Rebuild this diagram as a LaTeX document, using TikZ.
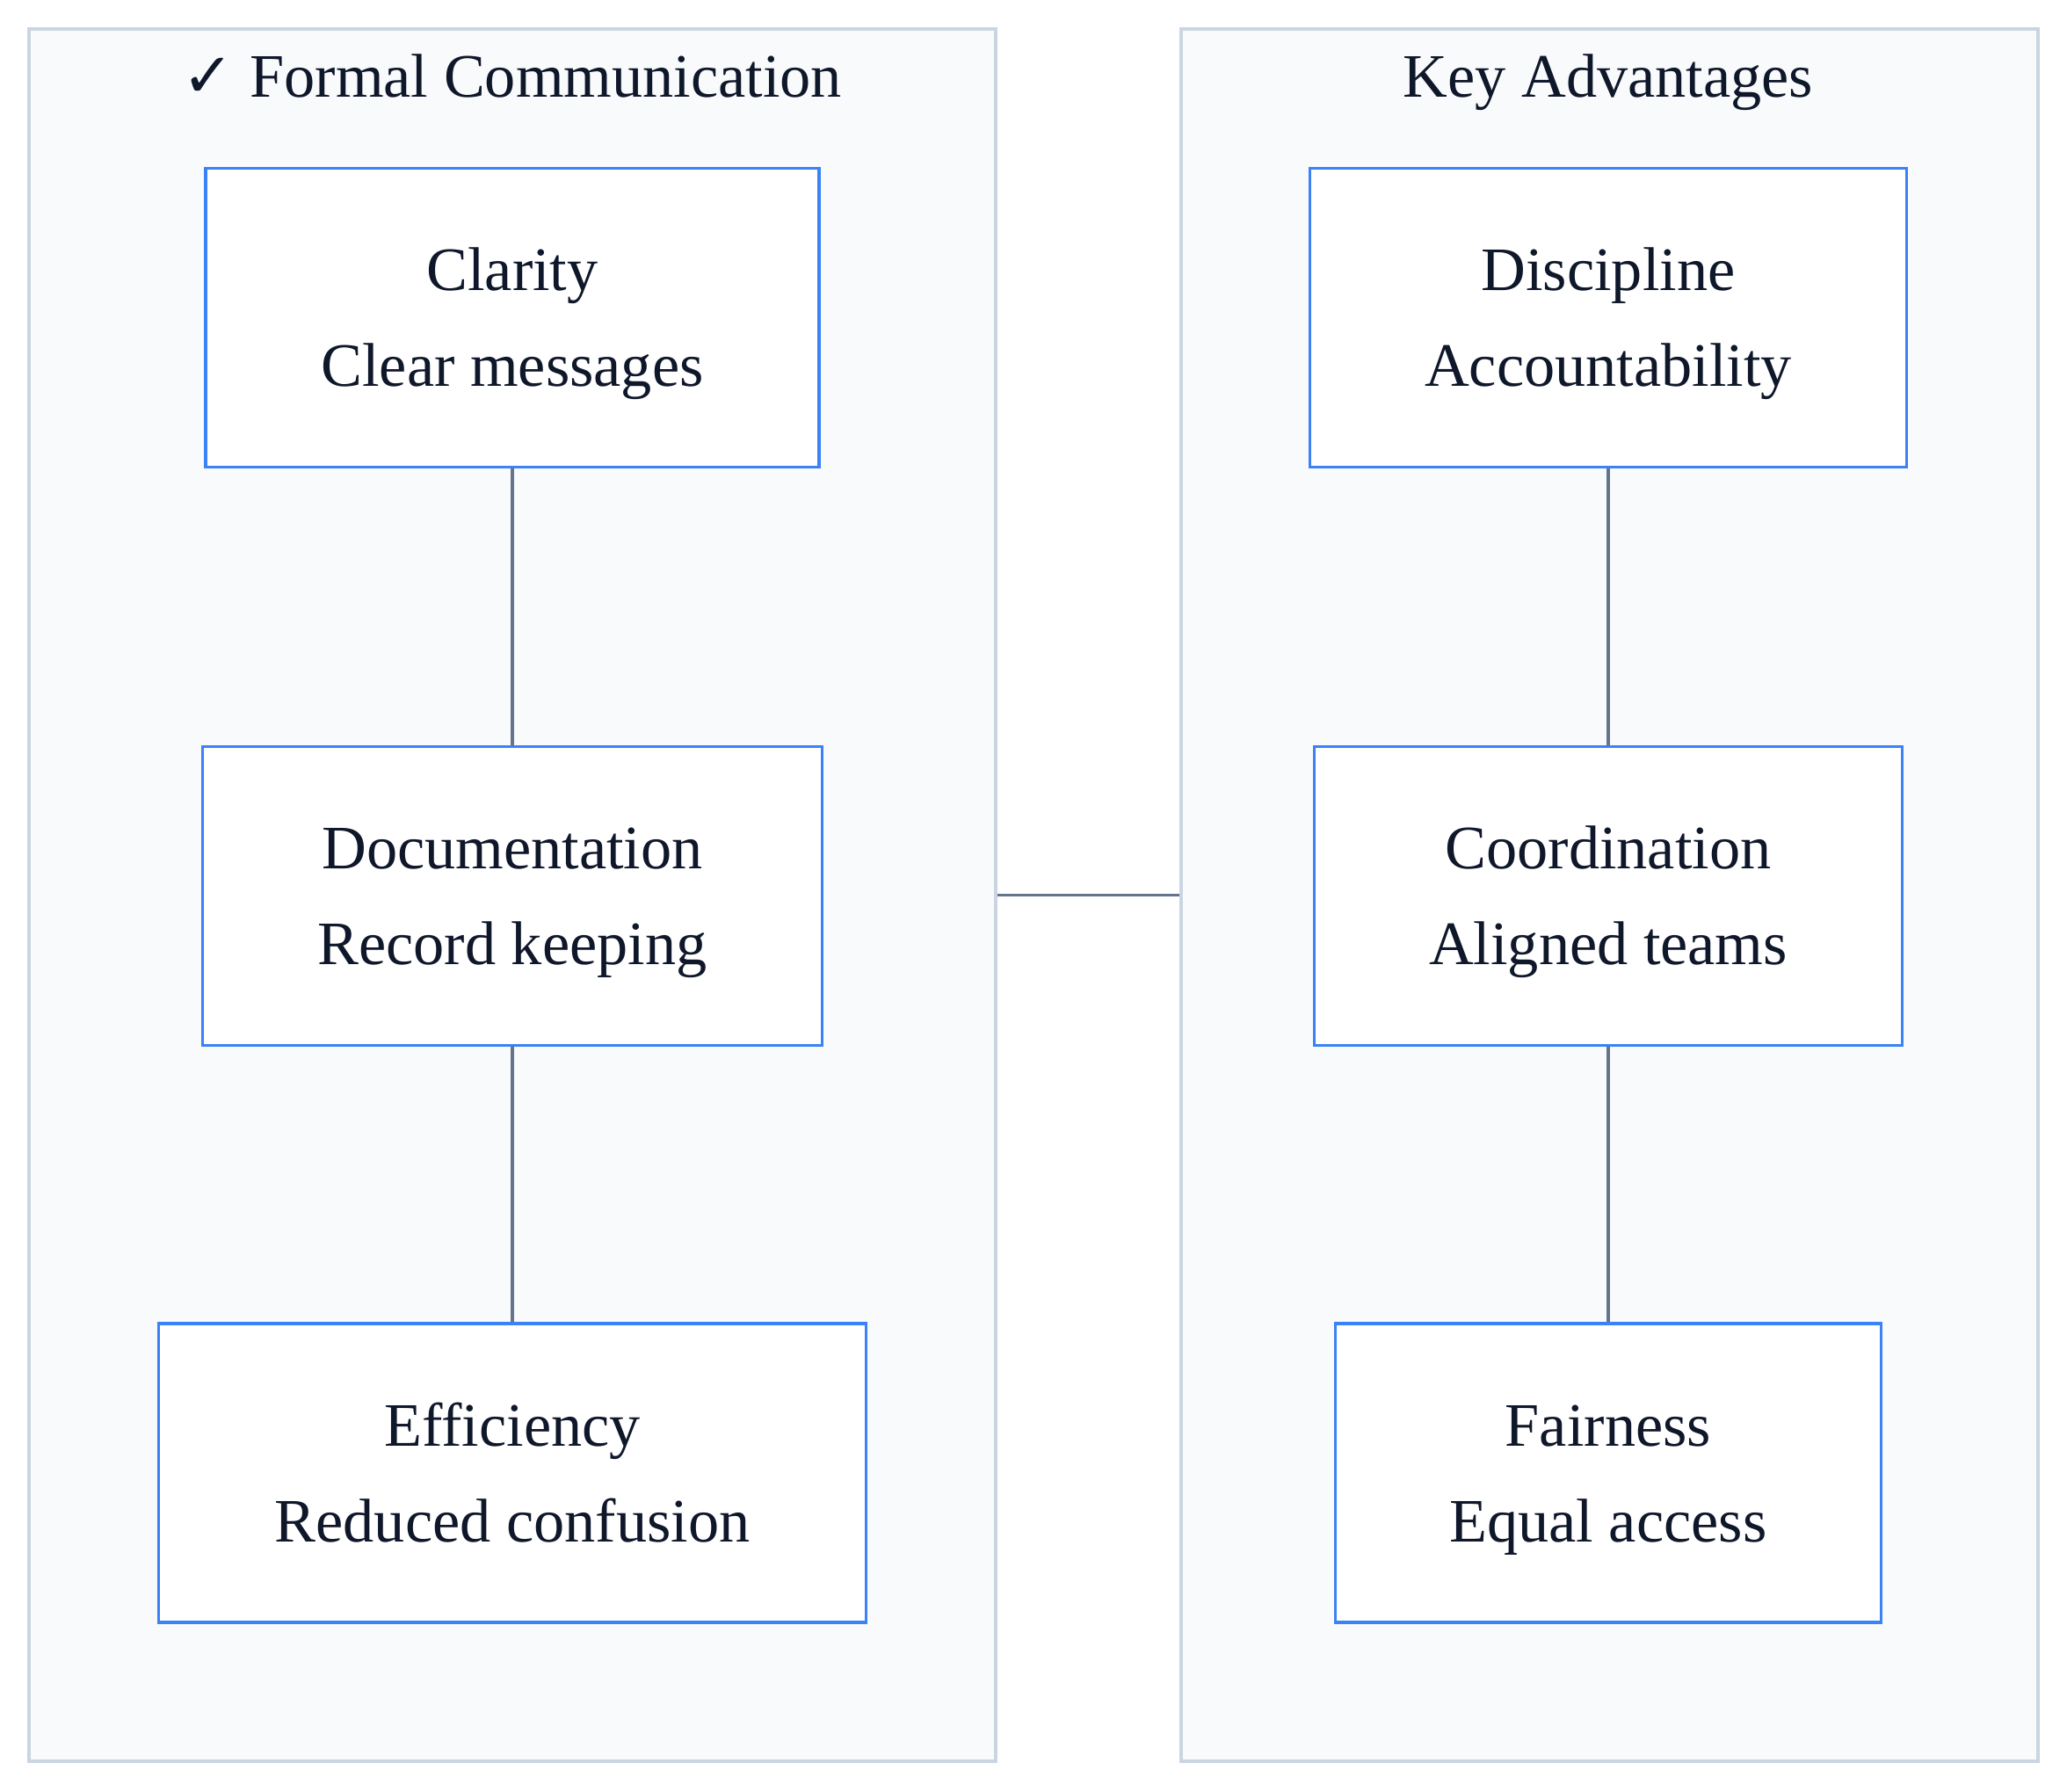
\documentclass[tikz,border=0pt]{standalone}
\usepackage{fontspec}
\setmainfont{Liberation Serif}
\newfontfamily\symfont{DejaVu Sans}
\definecolor{clusterfill}{HTML}{F8FAFC}
\definecolor{clusterline}{HTML}{CBD5E1}
\definecolor{boxline}{HTML}{3B82F6}
\definecolor{linkline}{HTML}{64748B}
\definecolor{inktext}{HTML}{0F172A}
% two centred lines with the same vertical extent in every box
\newcommand{\twolines}[2]{\rule{0pt}{18pt}#1\\#2\rule[-4.5pt]{0pt}{4.5pt}}
\tikzset{
  cluster/.style={draw=clusterline, fill=clusterfill, line width=0.9pt, inner sep=0pt},
  cltitle/.style={text=inktext, anchor=base, font=\fontsize{20}{24}\selectfont},
  item/.style={draw=boxline, fill=white, line width=0.9pt, align=center,
    minimum height=3.4cm, text=inktext, font=\fontsize{20}{31}\selectfont},
  link/.style={draw=linkline, line width=0.9pt}
}
\begin{document}
\begin{tikzpicture}
    \useasboundingbox (0,0) rectangle (23.52,-20.39);

    % the two groups
    \node[cluster, minimum width=11.0cm, minimum height=19.71cm] (formal) at (5.83,-10.185) {};
    \node[cluster, minimum width=9.75cm, minimum height=19.71cm] (keyadv) at (18.315,-10.185) {};

    \node[cltitle] (formaltitle) at (5.83,-1.11) {{\symfont ✓} Formal Communication};
    \node[cltitle] (keyadvtitle) at (18.30,-1.11) {Key Advantages};

    % left column
    \node[item, minimum width=6.98cm] (clarity) at (5.83,-3.615) {\twolines{Clarity}{Clear messages}};
    \node[item, minimum width=7.05cm] (docs) at (5.83,-10.195) {\twolines{Documentation}{Record keeping}};
    \node[item, minimum width=8.05cm] (effic) at (5.83,-16.76) {\twolines{Efficiency}{Reduced confusion}};

    % right column
    \node[item, minimum width=6.79cm] (discip) at (18.30,-3.615) {\twolines{Discipline}{Accountability}};
    \node[item, minimum width=6.69cm] (coord) at (18.30,-10.195) {\twolines{Coordination}{Aligned teams}};
    \node[item, minimum width=6.21cm] (fair) at (18.30,-16.76) {\twolines{Fairness}{Equal access}};

    \draw[link] (clarity) -- (docs);
    \draw[link] (docs) -- (effic);
    \draw[link] (discip) -- (coord);
    \draw[link] (coord) -- (fair);
    \draw[link] (formal.east) -- (keyadv.west);
\end{tikzpicture}
\end{document}
